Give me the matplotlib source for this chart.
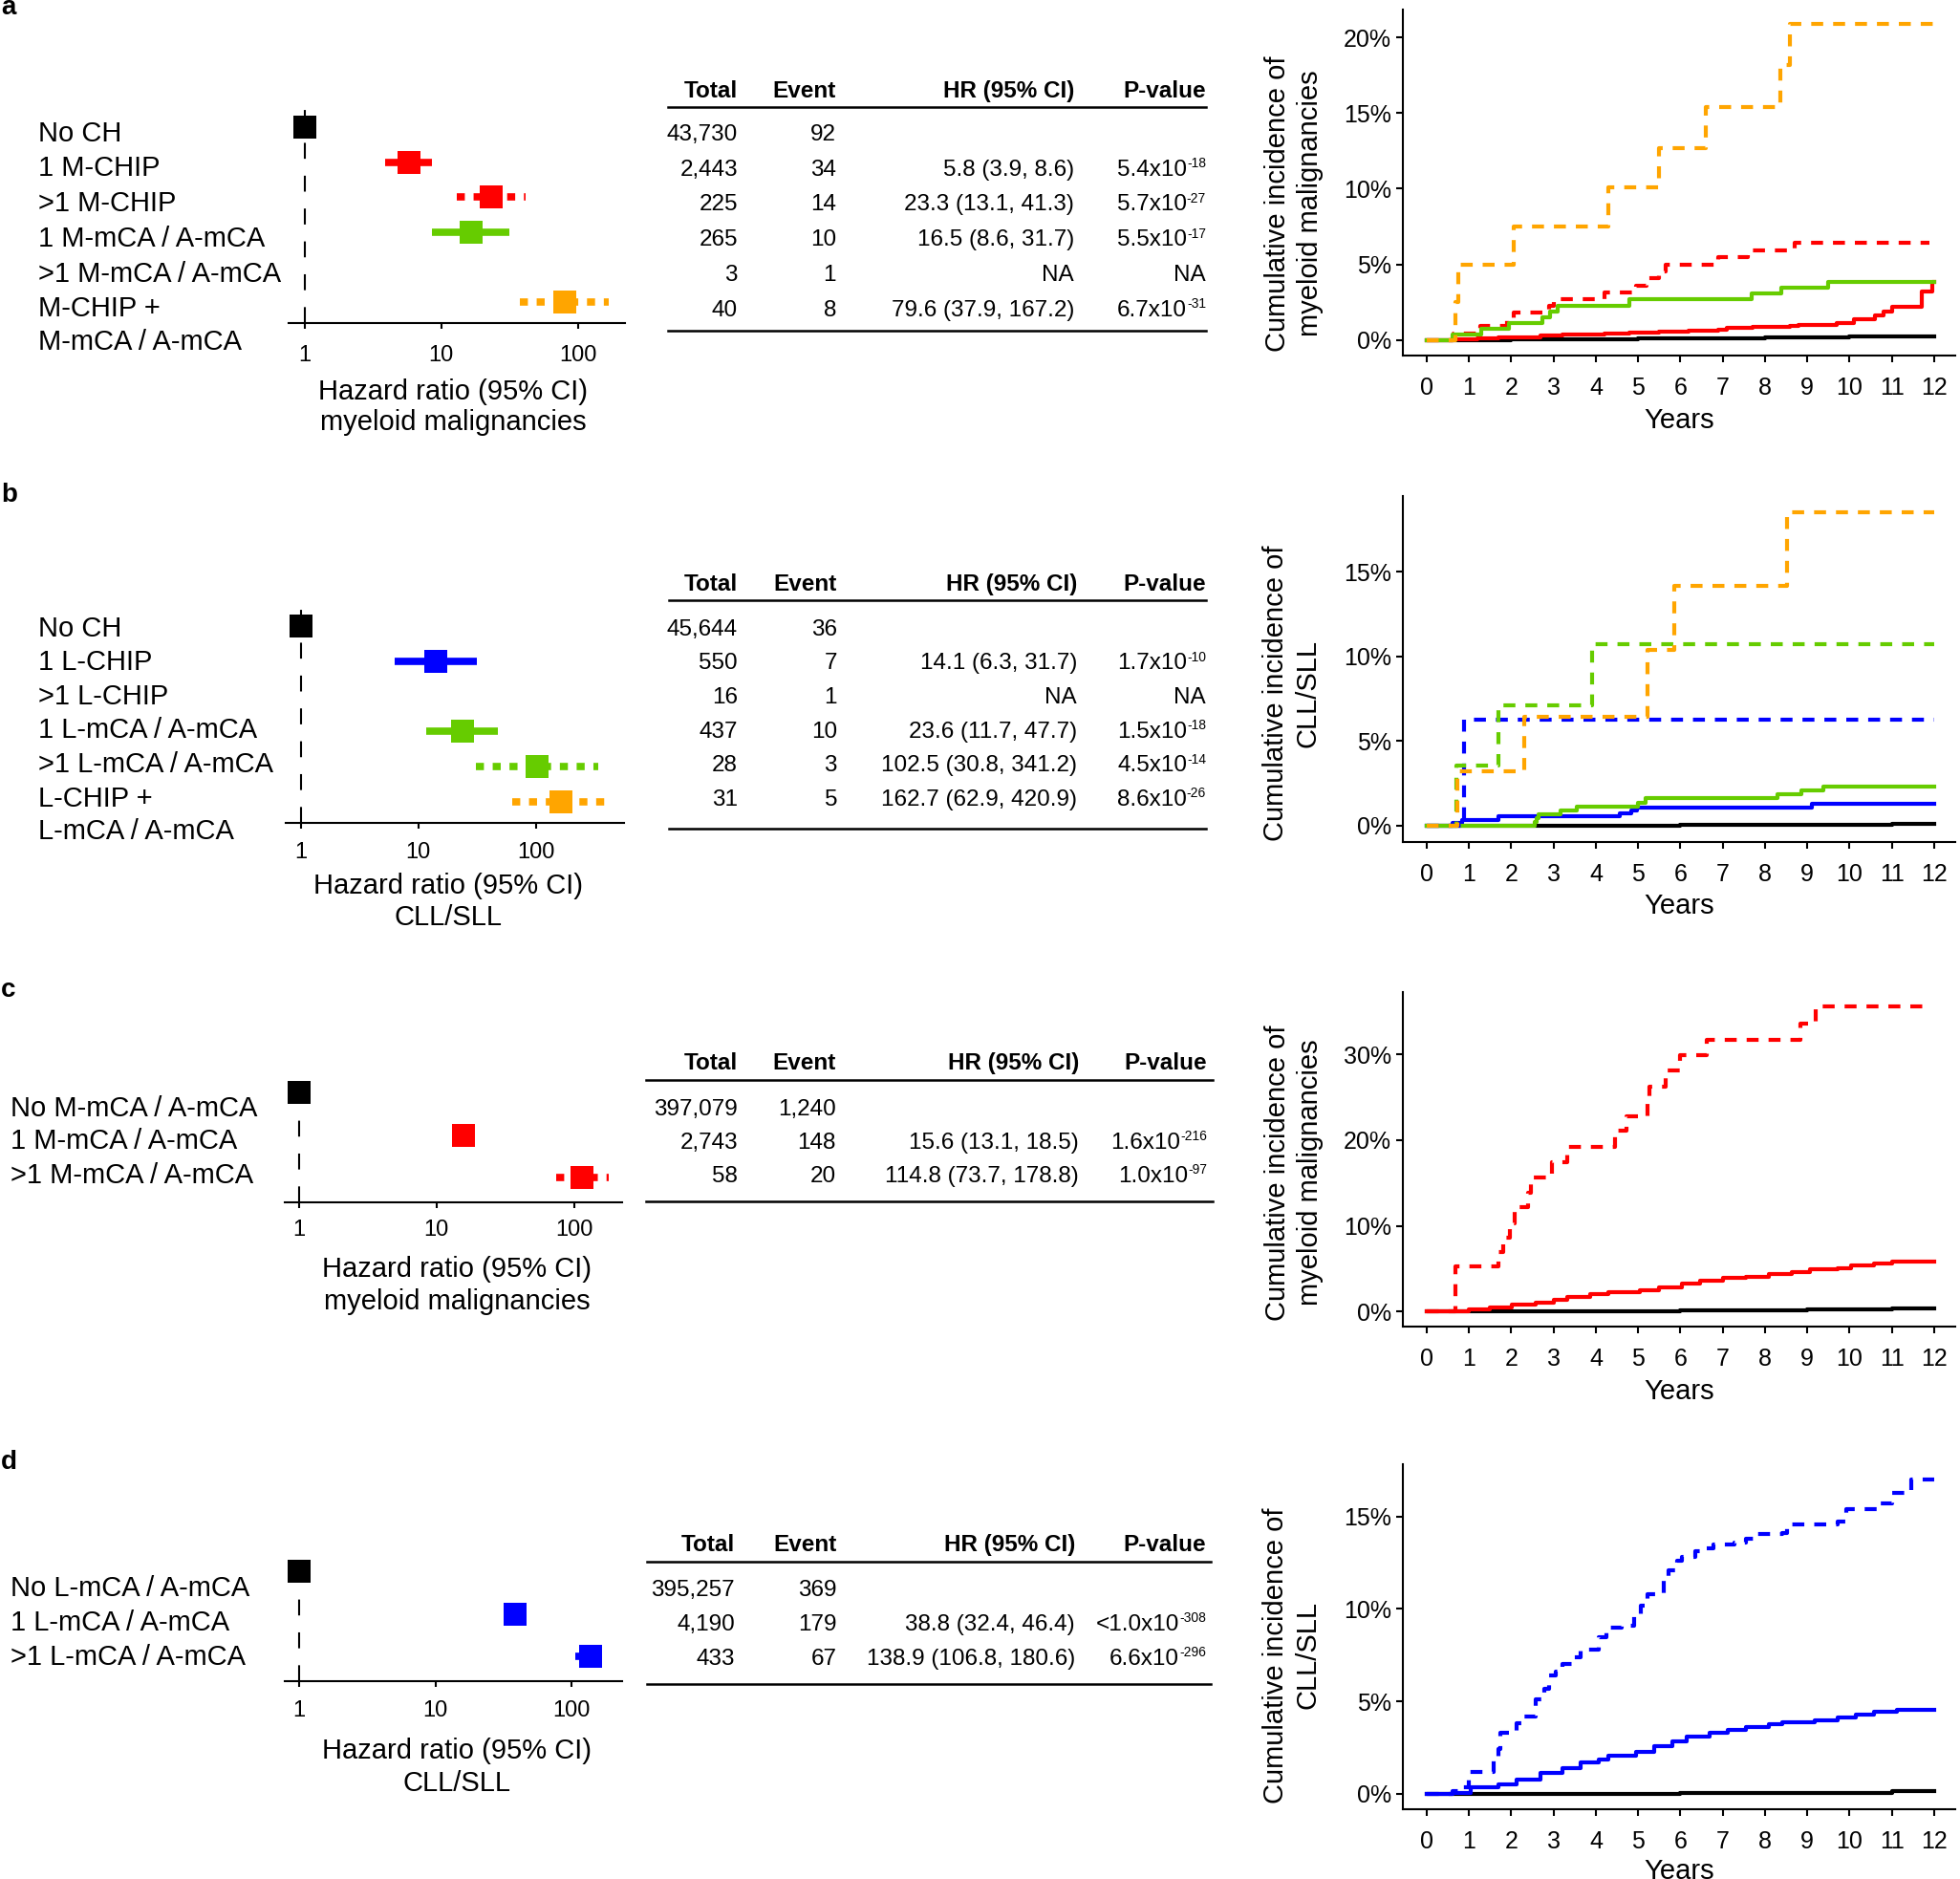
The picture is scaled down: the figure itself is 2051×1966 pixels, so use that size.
import math
import matplotlib
matplotlib.use("Agg")
import matplotlib.pyplot as plt
from matplotlib.lines import Line2D
from matplotlib.ticker import NullLocator

plt.rcParams["font.family"] = ["Liberation Sans", "DejaVu Sans"]

W, H, DPI = 2051, 1966, 100
PT = DPI / 72.0

BLACK, RED, ORANGE, GREEN, BLUE = "#000000", "#FF0000", "#FFA500", "#66CC00", "#0000FF"
NA = float("nan")

# ---------------- panel a : CHIP / mCA -> myeloid ----------------
a_groups = ["No CH", "1 M-CHIP", ">1 M-CHIP", "1 M-mCA / A-mCA", ">1 M-mCA / A-mCA",
            "M-CHIP +\nM-mCA / A-mCA"]
a_total = [43730, 2443, 225, 265, 3, 40]
a_event = [92, 34, 14, 10, 1, 8]
a_hr = [1.0, 5.8, 23.3, 16.5, NA, 79.6]
a_lo = [1.0, 3.9, 13.1, 8.6, NA, 37.9]
a_hi = [1.0, 8.6, 41.3, 31.7, NA, 167.2]
a_p = ["", "5.4", "5.7", "5.5", "NA", "6.7"]
a_pexp = ["", "-18", "-27", "-17", "", "-31"]
a_color = [BLACK, RED, RED, GREEN, GREEN, ORANGE]
a_dotted = [False, False, True, False, True, True]

# cumulative incidence (%), step times in years
a_black_t = [0, 1, 2, 3, 4, 5, 6, 7, 8, 9, 10, 11]
a_black_v = [0, 0.01, 0.03, 0.05, 0.07, 0.09, 0.11, 0.13, 0.15, 0.18, 0.21, 0.25]
a_red_t = [0, 0.6, 1.2, 1.7, 2.3, 2.7, 3.2, 4.2, 4.8, 5.5, 6.2, 6.9, 7.1, 7.7, 8.6, 8.8,
           9.7, 10.1, 10.6, 10.8, 11.0, 11.7, 11.95]
a_red_v = [0, 0.04, 0.08, 0.15, 0.2, 0.3, 0.38, 0.45, 0.5, 0.57, 0.63, 0.7, 0.8, 0.85, 0.92,
           1.02, 1.1, 1.35, 1.6, 1.9, 2.2, 3.2, 3.85]
a_red2_t = [0, 0.64, 1.27, 1.9, 2.05, 2.9, 3.0, 4.2, 4.95, 5.2, 5.5, 5.65, 6.9, 7.6, 8.7]
a_red2_v = [0, 0.45, 0.9, 1.35, 1.8, 2.25, 2.7, 3.15, 3.6, 4.1, 4.55, 5.0, 5.5, 5.95, 6.45]
a_green_t = [0, 0.6, 1.29, 1.94, 2.73, 2.91, 3.1, 4.79, 7.68, 8.39, 9.5]
a_green_v = [0, 0.38, 0.76, 1.14, 1.52, 1.9, 2.28, 2.67, 3.06, 3.45, 3.85]
a_orange_t = [0, 0.67, 0.75, 2.06, 4.3, 5.49, 6.6, 8.36, 8.58]
a_orange_v = [0, 2.5, 5.0, 7.5, 10.1, 12.7, 15.4, 18.2, 20.9]

# ---------------- panel b : CHIP / mCA -> CLL/SLL ----------------
b_groups = ["No CH", "1 L-CHIP", ">1 L-CHIP", "1 L-mCA / A-mCA", ">1 L-mCA / A-mCA",
            "L-CHIP +\nL-mCA / A-mCA"]
b_total = [45644, 550, 16, 437, 28, 31]
b_event = [36, 7, 1, 10, 3, 5]
b_hr = [1.0, 14.1, NA, 23.6, 102.5, 162.7]
b_lo = [1.0, 6.3, NA, 11.7, 30.8, 62.9]
b_hi = [1.0, 31.7, NA, 47.7, 341.2, 420.9]
b_p = ["", "1.7", "NA", "1.5", "4.5", "8.6"]
b_pexp = ["", "-10", "", "-18", "-14", "-26"]
b_color = [BLACK, BLUE, BLUE, GREEN, GREEN, ORANGE]
b_dotted = [False, False, True, False, True, True]

b_black_t = [0, 3, 6, 9, 11]
b_black_v = [0, 0.02, 0.04, 0.06, 0.09]
b_blue_t = [0, 0.62, 0.83, 1.7, 4.57, 4.84, 4.97, 9.12]
b_blue_v = [0, 0.18, 0.36, 0.55, 0.73, 0.91, 1.1, 1.3]
b_green_t = [0, 2.55, 2.6, 2.65, 3.16, 3.54, 5.0, 5.17, 8.29, 8.87, 9.37]
b_green_v = [0, 0.23, 0.46, 0.69, 0.92, 1.15, 1.38, 1.61, 1.84, 2.07, 2.3]
b_blue2_t = [0, 0.89]
b_blue2_v = [0, 6.25]
b_green2_t = [0, 0.7, 1.7, 3.92]
b_green2_v = [0, 3.57, 7.14, 10.71]
b_orange_t = [0, 0.73, 2.3, 5.22, 5.85, 8.52]
b_orange_v = [0, 3.23, 6.45, 10.4, 14.2, 18.5]

# ---------------- panel c : M-mCA -> myeloid ----------------
c_groups = ["No M-mCA / A-mCA", "1 M-mCA / A-mCA", ">1 M-mCA / A-mCA"]
c_total = [397079, 2743, 58]
c_event = [1240, 148, 20]
c_hr = [1.0, 15.6, 114.8]
c_lo = [1.0, 13.1, 73.7]
c_hi = [1.0, 18.5, 178.8]
c_p = ["", "1.6", "1.0"]
c_pexp = ["", "-216", "-97"]
c_color = [BLACK, RED, RED]
c_dotted = [False, False, True]

c_black_t = [0, 0.6, 3, 6, 9, 11]
c_black_v = [0, 0, 0.08, 0.17, 0.26, 0.36]
c_red_t = [0, 0.6, 1.0, 1.5, 2.02, 2.57, 3.0, 3.33, 3.86, 4.3, 5.05, 5.49, 6.03, 6.47, 7.0,
           7.55, 8.09, 8.63, 9.07, 9.71, 10.04, 10.58, 11.01]
c_red_v = [0, 0.05, 0.26, 0.5, 0.82, 1.08, 1.38, 1.67, 2.0, 2.3, 2.49, 2.79, 3.31, 3.61, 3.9,
           4.09, 4.35, 4.65, 4.91, 5.09, 5.39, 5.65, 5.84]
c_red2_t = [0, 0.67, 1.7, 1.81, 1.97, 2.08, 2.4, 2.46, 2.95, 3.33, 4.46, 4.73, 5.22, 5.27,
            5.65, 5.98, 6.63, 8.83, 9.2]
c_red2_v = [0, 5.28, 6.95, 8.62, 10.3, 12.16, 13.9, 15.69, 17.47, 19.2, 21.08, 22.8, 24.5,
            26.28, 28.1, 29.9, 31.67, 33.6, 35.58]

# ---------------- panel d : L-mCA -> CLL/SLL ----------------
d_groups = ["No L-mCA / A-mCA", "1 L-mCA / A-mCA", ">1 L-mCA / A-mCA"]
d_total = [395257, 4190, 433]
d_event = [369, 179, 67]
d_hr = [1.0, 38.8, 138.9]
d_lo = [1.0, 32.4, 106.8]
d_hi = [1.0, 46.4, 180.6]
d_p = ["", "<1.0", "6.6"]
d_pexp = ["", "-308", "-296"]
d_color = [BLACK, BLUE, BLUE]
d_dotted = [False, False, True]

d_black_t = [0, 0.6, 6, 11]
d_black_v = [0, 0, 0.05, 0.12]
d_blue_t = [0, 0.62, 1.05, 1.7, 2.13, 2.68, 3.22, 3.65, 4.08, 4.3, 4.95, 5.38, 5.82, 6.14,
            6.68, 7.12, 7.55, 8.09, 8.42, 9.17, 9.72, 10.15, 10.58, 11.12]
d_blue_v = [0, 0.03, 0.34, 0.52, 0.78, 1.12, 1.38, 1.72, 1.86, 2.07, 2.28, 2.59, 2.84, 3.1,
            3.28, 3.45, 3.62, 3.76, 3.88, 3.97, 4.1, 4.28, 4.45, 4.52]
d_blue2_t = [0, 0.62, 0.78, 1.0, 1.59, 1.7, 1.75, 2.13, 2.3, 2.57, 2.78, 2.89, 3.05, 3.2,
             3.43, 3.65, 4.08, 4.25, 4.62, 4.9, 5.06, 5.22, 5.49, 5.6, 5.71, 5.92, 6.03,
             6.36, 6.57, 6.79, 7.28, 7.55, 7.77, 8.42, 8.52, 9.72, 9.93, 10.69, 11.01, 11.45]
d_blue2_v = [0, 0.14, 0.34, 1.2, 1.9, 2.4, 3.3, 3.8, 4.2, 5.1, 5.7, 6.4, 6.6, 7.0, 7.4, 7.8,
             8.45, 8.97, 9.1, 9.66, 10.2, 10.8, 10.86, 11.6, 12.1, 12.6, 12.8, 13.1, 13.3,
             13.5, 13.6, 13.8, 14.05, 14.1, 14.57, 14.74, 15.4, 15.7, 16.3, 17.0]

# ---------------- drawing ----------------
fig = plt.figure(figsize=(W / DPI, H / DPI), dpi=DPI)
renderer = fig.canvas.get_renderer()


def axes_px(x0, y0, x1, y1):
    return fig.add_axes([x0 / W, 1 - y1 / H, (x1 - x0) / W, (y1 - y0) / H])


def put(x, y, s, size, ha="left", weight="normal"):
    # y = visual centre of the capitals, pixels from the top
    return fig.text(x / W, 1 - (y + 0.36 * size * PT) / H, s, fontsize=size, ha=ha,
                    va="baseline", fontweight=weight)


def hline(x0, x1, y):
    fig.add_artist(Line2D([x0 / W, x1 / W], [1 - y / H] * 2, transform=fig.transFigure,
                          color="k", lw=1.8))


def forest(box, first, step, xlim, tick_pad, hr, lo, hi, colors, dotted):
    x0, y0, x1, y1 = box
    ax = axes_px(x0, y0, x1, y1)
    ax.set_xscale("log")
    ax.set_xlim(xlim)
    ybot, ytop = (y1 - first) / step, (y0 - first) / step
    ax.set_ylim(ybot, ytop)
    ax.plot([1, 1], [ybot, ytop], color="k", lw=1.5, dashes=(8, 8.5), zorder=1)
    for i in range(len(hr)):
        if math.isnan(hr[i]):
            continue
        if hi[i] > lo[i]:
            kw = dict(dashes=(1.1, 1.2)) if dotted[i] else {}
            ax.plot([lo[i], hi[i]], [i, i], color=colors[i], lw=5.5, solid_capstyle="butt",
                    dash_capstyle="butt", clip_on=False, zorder=2, **kw)
        ax.plot([hr[i]], [i], marker="s", ms=16.9, mew=0, color=colors[i], clip_on=False,
                zorder=3)
    for s in ["left", "top", "right"]:
        ax.spines[s].set_visible(False)
    ax.spines["bottom"].set_linewidth(1.5)
    ax.set_xticks([1, 10, 100], labels=["1", "10", "100"])
    ax.xaxis.set_minor_locator(NullLocator())
    ax.set_yticks([])
    ax.tick_params(axis="x", length=4, width=1.5, labelsize=17, pad=tick_pad)
    ax.patch.set_alpha(0)
    return ax


def labels(x, first, step, groups):
    for i, g in enumerate(groups):
        for k, line in enumerate(g.split("\n")):
            put(x, first + step * i + 35 * k, line, 21)


def table(cols, lines, first, step, total, event, hr, lo, hi, p, pexp):
    tot_r, ev_r, hr_r, p_r = cols
    lx0, lx1, head_y, rule_y, bot_y = lines
    put(tot_r, head_y, "Total", 17.5, ha="right", weight="bold")
    put(ev_r, head_y, "Event", 17.5, ha="right", weight="bold")
    put(hr_r, head_y, "HR (95% CI)", 17.5, ha="right", weight="bold")
    put(p_r, head_y, "P-value", 17.5, ha="right", weight="bold")
    hline(lx0, lx1, rule_y)
    hline(lx0, lx1, bot_y)
    for i in range(len(total)):
        y = first + step * i + 1
        put(tot_r, y, f"{total[i]:,}", 17.5, ha="right")
        put(ev_r, y, f"{event[i]:,}", 17.5, ha="right")
        if i == 0:
            continue
        if math.isnan(hr[i]):
            put(hr_r, y, "NA", 17.5, ha="right")
        else:
            put(hr_r, y, f"{hr[i]:.1f} ({lo[i]:.1f}, {hi[i]:.1f})", 17.5, ha="right")
        if pexp[i]:
            base = y + 0.36 * 17.5 * PT
            sup = fig.text(p_r / W, 1 - (base - 8.5) / H, pexp[i], fontsize=10, ha="right",
                           va="baseline")
            bb = sup.get_window_extent(renderer=renderer)
            fig.text(bb.x0 / W, 1 - base / H, p[i] + "x10", fontsize=17.5, ha="right",
                     va="baseline")
        else:
            put(p_r, y, p[i], 17.5, ha="right")


def km(box, ylim, yticks, curves, ylabel, ylab_xy, years_y):
    x0, y0, x1, y1 = box
    ax = axes_px(x0, y0, x1, y1)
    for t, v, color, dotted, t_end in curves:
        kw = dict(dashes=(3.0, 2.5)) if dotted else {}
        ax.plot(list(t) + [t_end], list(v) + [v[-1]], drawstyle="steps-post", color=color,
                lw=3, **kw)
    ax.set_xlim(-0.574, 12.5)
    ax.set_ylim(ylim)
    ax.set_xticks(range(13))
    ax.set_yticks(yticks, labels=[f"{v}%" for v in yticks])
    for s in ["top", "right"]:
        ax.spines[s].set_visible(False)
    for s in ["left", "bottom"]:
        ax.spines[s].set_linewidth(1.5)
    ax.tick_params(length=5, width=1.5, labelsize=18)
    ax.tick_params(axis="x", pad=10.5)
    ax.tick_params(axis="y", pad=3.6)
    fig.text(ylab_xy[0] / W, 1 - ylab_xy[1] / H, ylabel, fontsize=21, rotation=90,
             ha="center", va="center", linespacing=1.25, multialignment="center")
    put(1757, years_y, "Years", 21, ha="center")
    return ax


KM_BOX_X = (1467.6, 2046)

# panel a
fig.text(1 / W, 1 - 15 / H, "a", fontsize=20, fontweight="bold", va="baseline")
labels(40, 137, 36.8, a_groups)
forest((302, 112, 653.5, 338), 133, 36.6, (0.764, 219.3), 12.8,
       a_hr, a_lo, a_hi, a_color, a_dotted)
put(474, 407, "Hazard ratio (95% CI)", 21, ha="center")
put(474, 440, "myeloid malignancies", 21, ha="center")
table((772, 875, 1124, 1262), (699, 1262, 93, 112, 346), 137, 36.8,
      a_total, a_event, a_hr, a_lo, a_hi, a_p, a_pexp)
km((KM_BOX_X[0], 10, KM_BOX_X[1], 372), (-1.03, 21.85), [0, 5, 10, 15, 20],
   [(a_black_t, a_black_v, BLACK, False, 12),
    (a_red_t, a_red_v, RED, False, 12),
    (a_red2_t, a_red2_v, RED, True, 11.88),
    (a_green_t, a_green_v, GREEN, False, 12),
    (a_orange_t, a_orange_v, ORANGE, True, 12)],
   "Cumulative incidence of\nmyeloid malignancies", (1354, 213), 437)

# panel b
fig.text(1 / W, 1 - 525 / H, "b", fontsize=20, fontweight="bold", va="baseline")
labels(40, 655, 35.6, b_groups)
forest((299, 633, 652.6, 861), 655, 36.8, (0.741, 561), 10.7,
       b_hr, b_lo, b_hi, b_color, b_dotted)
put(469, 925, "Hazard ratio (95% CI)", 21, ha="center")
put(469, 958, "CLL/SLL", 21, ha="center")
table((772, 876, 1127, 1262), (700, 1262, 609.5, 628, 867), 655, 35.6,
      b_total, b_event, b_hr, b_lo, b_hi, b_p, b_pexp)
km((KM_BOX_X[0], 519, KM_BOX_X[1], 881), (-0.96, 19.48), [0, 5, 10, 15],
   [(b_black_t, b_black_v, BLACK, False, 12),
    (b_blue_t, b_blue_v, BLUE, False, 12),
    (b_green_t, b_green_v, GREEN, False, 12),
    (b_blue2_t, b_blue2_v, BLUE, True, 12),
    (b_green2_t, b_green2_v, GREEN, True, 12),
    (b_orange_t, b_orange_v, ORANGE, True, 12)],
   "Cumulative incidence of\nCLL/SLL", (1352, 725), 945)

# panel c
fig.text(1 / W, 1 - 1043 / H, "c", fontsize=20, fontweight="bold", va="baseline")
labels(11, 1157, 35, c_groups)
forest((297.5, 1131, 650.5, 1258), 1143, 44.5, (0.78, 222.3), 9.2,
       c_hr, c_lo, c_hi, c_color, c_dotted)
put(478, 1325, "Hazard ratio (95% CI)", 21, ha="center")
put(478, 1360, "myeloid malignancies", 21, ha="center")
table((772, 875, 1129, 1263.5), (676, 1269, 1110.5, 1130, 1257), 1157, 35,
      c_total, c_event, c_hr, c_lo, c_hi, c_p, c_pexp)
km((KM_BOX_X[0], 1038, KM_BOX_X[1], 1388), (-1.75, 37.28), [0, 10, 20, 30],
   [(c_black_t, c_black_v, BLACK, False, 12),
    (c_red_t, c_red_v, RED, False, 12),
    (c_red2_t, c_red2_v, RED, True, 11.85)],
   "Cumulative incidence of\nmyeloid malignancies", (1354, 1227), 1453)

# panel d
fig.text(1 / W, 1 - 1537 / H, "d", fontsize=20, fontweight="bold", va="baseline")
labels(11, 1660, 36, d_groups)
forest((297.5, 1632, 650.5, 1759), 1644, 44.5, (0.778, 233.7), 10.7,
       d_hr, d_lo, d_hi, d_color, d_dotted)
put(478, 1830, "Hazard ratio (95% CI)", 21, ha="center")
put(478, 1863, "CLL/SLL", 21, ha="center")
table((769, 875.5, 1125, 1262), (676.6, 1267, 1614, 1634, 1762), 1660, 36,
      d_total, d_event, d_hr, d_lo, d_hi, d_p, d_pexp)
km((KM_BOX_X[0], 1532, KM_BOX_X[1], 1893), (-0.84, 17.83), [0, 5, 10, 15],
   [(d_black_t, d_black_v, BLACK, False, 12),
    (d_blue_t, d_blue_v, BLUE, False, 12),
    (d_blue2_t, d_blue2_v, BLUE, True, 12)],
   "Cumulative incidence of\nCLL/SLL", (1352, 1732), 1955)

fig.savefig("out.png", dpi=DPI)
